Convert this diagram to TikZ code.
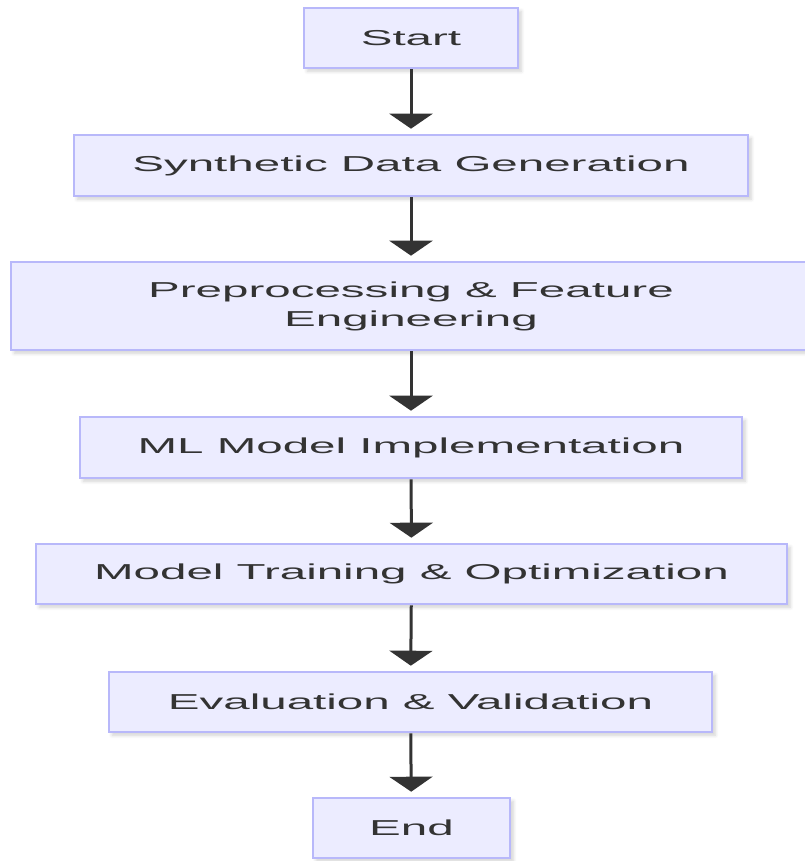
\documentclass[tikz,border=0pt]{standalone}
\usepackage{fontspec}
\usepackage{tikz}
\usetikzlibrary{arrows.meta,shadows.blur}
\usepackage{xcolor}
\newfontfamily\boxfont{Liberation Sans}[FakeStretch=2.2]
\definecolor{BoxFill}{HTML}{ECECFF}
\definecolor{BoxLine}{RGB}{184,184,250}
\definecolor{InkGray}{HTML}{333333}

\begin{document}
\begin{tikzpicture}[x=0.5pt,y=-0.5pt,
  n/.style={rectangle,draw=BoxLine,fill=BoxFill,line width=1.3pt,font=\boxfont\fontsize{10.8}{14.5}\selectfont,
    text=InkGray,align=center,inner sep=0pt,
    blur shadow={shadow xshift=1.6pt,shadow yshift=-1.6pt,shadow opacity=18,shadow blur steps=6}},
  ar/.style={-{Triangle[width=21.5pt,length=7.5pt]},draw=InkGray,line width=1.5pt,shorten >=2.5pt}
]
  \useasboundingbox (0,0) rectangle (804,861);
  \node[n,minimum width=107pt,minimum height=30pt] (s1) at (411,38) {Start};
  \node[n,minimum width=337pt,minimum height=30.5pt] (s2) at (411,165.5) {Synthetic Data Generation};
  \node[n,minimum width=400pt,minimum height=44pt] (s3) at (411,306) {Preprocessing \& Feature\\Engineering};
  \node[n,minimum width=331pt,minimum height=30.5pt] (s4) at (411,447.5) {ML Model Implementation};
  \node[n,minimum width=375.5pt,minimum height=30pt] (s5) at (411.5,574) {Model Training \& Optimization};
  \node[n,minimum width=301.5pt,minimum height=30pt] (s6) at (410.5,702) {Evaluation \& Validation};
  \node[n,minimum width=98.5pt,minimum height=30pt] (s7) at (411.5,828) {End};
  \draw[ar] (s1)--(s2);
  \draw[ar] (s2)--(s3);
  \draw[ar] (s3)--(s4);
  \draw[ar] (s4)--(s5);
  \draw[ar] (s5)--(s6);
  \draw[ar] (s6)--(s7);
\end{tikzpicture}
\end{document}
